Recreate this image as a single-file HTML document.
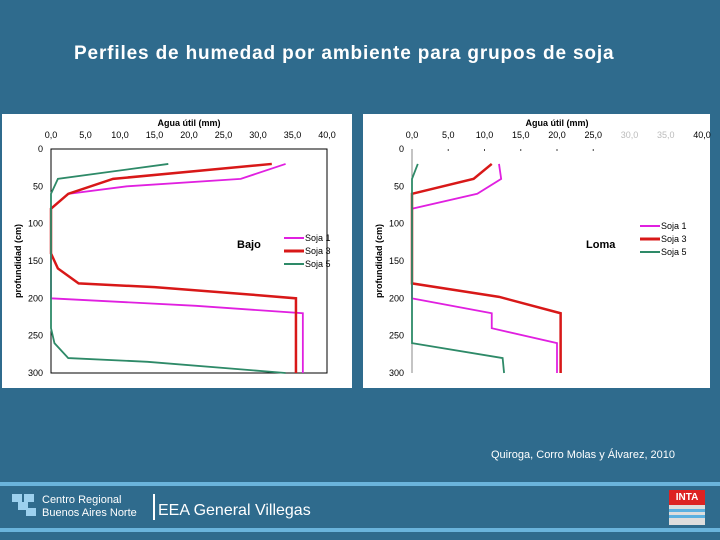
<!DOCTYPE html>
<html><head><meta charset="utf-8"><style>
body{margin:0;width:720px;height:540px;overflow:hidden;background:#2f6b8d;font-family:"Liberation Sans",sans-serif;position:relative}
.abs{position:absolute}
</style></head><body>
<div class="abs" style="left:74px;top:43px;font:bold 19px 'Liberation Sans',sans-serif;letter-spacing:0.85px;color:#fff;white-space:nowrap">Perfiles de humedad por ambiente para grupos de soja</div>
<svg class="abs" style="left:0;top:0" width="720" height="540" id="svg"></svg>
<div class="abs" style="left:491px;top:449px;font-size:11px;color:#fff">Quiroga, Corro Molas y Álvarez, 2010</div>
<div class="abs" style="left:0;top:482px;width:720px;height:4px;background:#6ab4dc"></div>
<div class="abs" style="left:0;top:528px;width:720px;height:4px;background:#6ab4dc"></div>
<div class="abs" style="left:12px;top:494px;width:24px;height:24px">
<div class="abs" style="left:0;top:0;width:10px;height:8px;background:#9cd0ee"></div><div class="abs" style="left:12px;top:0;width:10px;height:8px;background:#9cd0ee"></div><div class="abs" style="left:6px;top:8px;width:10px;height:8px;background:#9cd0ee"></div><div class="abs" style="left:14px;top:14px;width:10px;height:8px;background:#9cd0ee"></div></div>
<div class="abs" style="left:42px;top:494px;font-size:11px;line-height:13px;color:#fff">Centro Regional<br>Buenos Aires Norte</div>
<div class="abs" style="left:153px;top:494px;width:2px;height:26px;background:#fff"></div>
<div class="abs" style="left:158px;top:502px;font-size:16px;color:#fff">EEA General Villegas</div>
<div class="abs" style="left:669px;top:490px;width:36px;height:35px;background:#ddd"><div style="background:#d22;color:#fff;font:bold 10px 'Liberation Sans';text-align:center;height:15px;line-height:15px">INTA</div><div style="margin-top:4px;height:3px;background:#5ab0e0"></div><div style="margin-top:3px;height:3px;background:#5ab0e0"></div></div>
<script>
const xTicks=["0,0","5,0","10,0","15,0","20,0","25,0","30,0","35,0","40,0"];
const yTicks=[0,50,100,150,200,250,300];
const seriesNames=["Soja 1","Soja 3","Soja 5"];
const colors=["#e020e0","#d81818","#2e8a68"];
const bajo1=[[34,20],[27.5,40],[11,50],[2.5,60],[0,80],[0,200],[21,210],[36.5,220],[36.5,300]];
const bajo3=[[32,20],[9,40],[2.5,60],[0,80],[0,140],[1,160],[4,180],[15,185],[29,195],[35.5,200],[35.5,300]];
const bajo5=[[17,20],[1,40],[0,60],[0,240],[0.5,260],[2.5,280],[14,285],[34,300]];
const loma1=[[12,20],[12.3,40],[9,60],[0,80],[0,200],[11,220],[11,240],[20,260],[20,300]];
const loma3=[[11,20],[8.5,40],[0,60],[0,180],[12,198],[20.5,220],[20.5,300]];
const loma5=[[0.8,20],[0,40],[0,260],[12.5,280],[12.7,300]];
const NS="http://www.w3.org/2000/svg",svg=document.getElementById('svg');
function el(t,a,p){const e=document.createElementNS(NS,t);for(const k in a)e.setAttribute(k,a[k]);(p||svg).appendChild(e);return e}
function panel(o){
 const g=el('g',{});
 
 
 const bg=el('rect',{x:o.bx,y:114,width:o.bw,height:274,fill:'#fff'},g);
 
 
 const X=v=>o.x0+(o.x1-o.x0)*v/40, Y=v=>149+(373-149)*v/300;
 if(o.box){const f=el('rect',{x:X(0),y:Y(0),width:X(40)-X(0),height:Y(300)-Y(0),fill:'none',stroke:'#000','stroke-width':1},g);}
 else{const a=el('line',{x1:X(0),y1:Y(0),x2:X(0),y2:Y(300),stroke:'#888'},g);}
 xTicks.forEach((t,i)=>{const v=i*5;const tx=el('text',{x:X(v),y:138,'font-size':9,'text-anchor':'middle',fill:(!o.box&&(i==6||i==7))?'#bbb':'#000'},g);tx.textContent=t;
  
  
  if(!o.box&&i>0&&i<6){el('line',{x1:X(v),y1:Y(0),x2:X(v),y2:Y(0)+2,stroke:'#444'},g);}});
 yTicks.forEach(v=>{const tx=el('text',{x:X(0)-8,y:Y(v)+3,'font-size':9,'text-anchor':'end'},g);tx.textContent=v;
  
  });
 const xt=el('text',{x:X(20),y:126,'font-size':9,'font-weight':'bold','text-anchor':'middle'},g);xt.textContent='Agua útil (mm)';
 
 
 const yt=el('text',{x:0,y:0,'font-size':9,'font-weight':'bold','text-anchor':'middle',transform:`translate(${o.bx+19},261) rotate(-90)`},g);yt.textContent='profundidad (cm)';
 
 
 o.series.forEach((s,i)=>{const p=el('polyline',{points:s.map(d=>X(d[0])+','+Y(d[1])).join(' '),fill:'none',stroke:colors[i],'stroke-width':i==1?2.5:1.8},g);
  
  });
 const lab=el('text',{x:o.lx,y:248,'font-size':11,'font-weight':'bold'},g);lab.textContent=o.label;
 
 
 seriesNames.forEach((n,i)=>{const y=o.ly+i*13;const l=el('line',{x1:o.gx,y1:y,x2:o.gx+20,y2:y,stroke:colors[i],'stroke-width':i==1?3:2},g);
  
  
  const t=el('text',{x:o.gx+21,y:y+3,'font-size':9},g);t.textContent=n;
  
  });
}
panel({name:'bajo',bx:2,bw:350,x0:51,x1:327,box:true,series:[bajo1,bajo3,bajo5],label:'Bajo',lx:237,gx:284,ly:238});
panel({name:'loma',bx:363,bw:347,x0:412,x1:702,box:false,series:[loma1,loma3,loma5],label:'Loma',lx:586,gx:640,ly:226});
</script>
</body></html>
